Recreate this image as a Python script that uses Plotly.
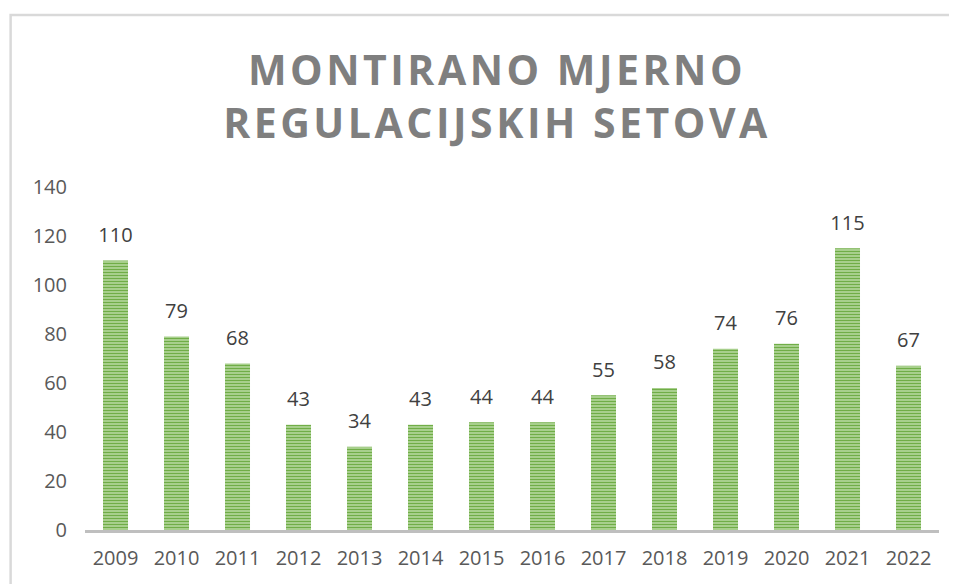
import plotly.graph_objects as go

# data
years = ['2009', '2010', '2011', '2012', '2013', '2014', '2015',
         '2016', '2017', '2018', '2019', '2020', '2021', '2022']
sets_mounted = [110, 79, 68, 43, 34, 43, 44, 44, 55, 58, 74, 76, 115, 67]
y_ticks = [0, 20, 40, 60, 80, 100, 120, 140]

# page body has an 8px margin, so the figure is drawn 8px smaller
W, H = 949, 576

fig = go.Figure()
fig.add_trace(
    go.Bar(
        x=years,
        y=sets_mounted,
        width=0.41,
        marker=dict(
            color='#a9d18e',
            line=dict(width=0),
            pattern=dict(shape='-', fgcolor='#70ad47', bgcolor='#b9dba3',
                         size=3, solidity=0.5, fillmode='replace'),
        ),
        showlegend=False,
        hoverinfo='x+y',
    )
)
# value labels, pushed up by an invisible marker
fig.add_trace(
    go.Scatter(
        x=years,
        y=sets_mounted,
        mode='markers+text',
        text=[str(v) for v in sets_mounted],
        textposition='top center',
        textfont=dict(size=20, color='#404040'),
        marker=dict(size=20, color='rgba(0,0,0,0)'),
        cliponaxis=False,
        showlegend=False,
        hoverinfo='skip',
    )
)

# light frame round the chart
fig.add_shape(type='rect', xref='paper', yref='paper',
              x0=-0.0871, x1=1.0187, y0=-0.3, y1=1.5015,
              line=dict(color='#d9d9d9', width=2.5), fillcolor='rgba(0,0,0,0)',
              layer='below')

fig.update_xaxes(type='category', range=[-0.5, len(years) - 0.5])

fig.update_layout(
    width=W,
    height=H,
    title=dict(
        text='MONTIRANO MJERNO<br>REGULACIJSKIH SETOVA',
        x=489 / W,
        xanchor='center',
        xref='container',
        y=1 - 77 / H,
        yanchor='middle',
        font=dict(size=41, color='#7f7f7f',
                  family='Open Sans, Arial, sans-serif', weight='bold'),
    ),
    xaxis=dict(
        showgrid=False,
        showline=True,
        linecolor='#bfbfbf',
        linewidth=2.5,
        ticks='outside',
        ticklen=8,
        tickcolor='rgba(0,0,0,0)',
        tickfont=dict(size=20, color='#595959'),
    ),
    yaxis=dict(
        range=[0, 140],
        tickvals=y_ticks,
        showgrid=False,
        showline=False,
        zeroline=False,
        ticks='outside',
        ticklen=13,
        tickcolor='rgba(0,0,0,0)',
        tickfont=dict(size=20, color='#595959'),
    ),
    plot_bgcolor='white',
    paper_bgcolor='white',
    margin=dict(l=76.5, r=17.5, t=179, b=54),
    font=dict(family='Open Sans, Arial, sans-serif'),
)

# widen the title lettering like the original
js = """
document.querySelectorAll('.gtitle').forEach(function(t){
  t.style.letterSpacing = '3.5px';
});
"""
fig.write_html("out.html", post_script=js)
